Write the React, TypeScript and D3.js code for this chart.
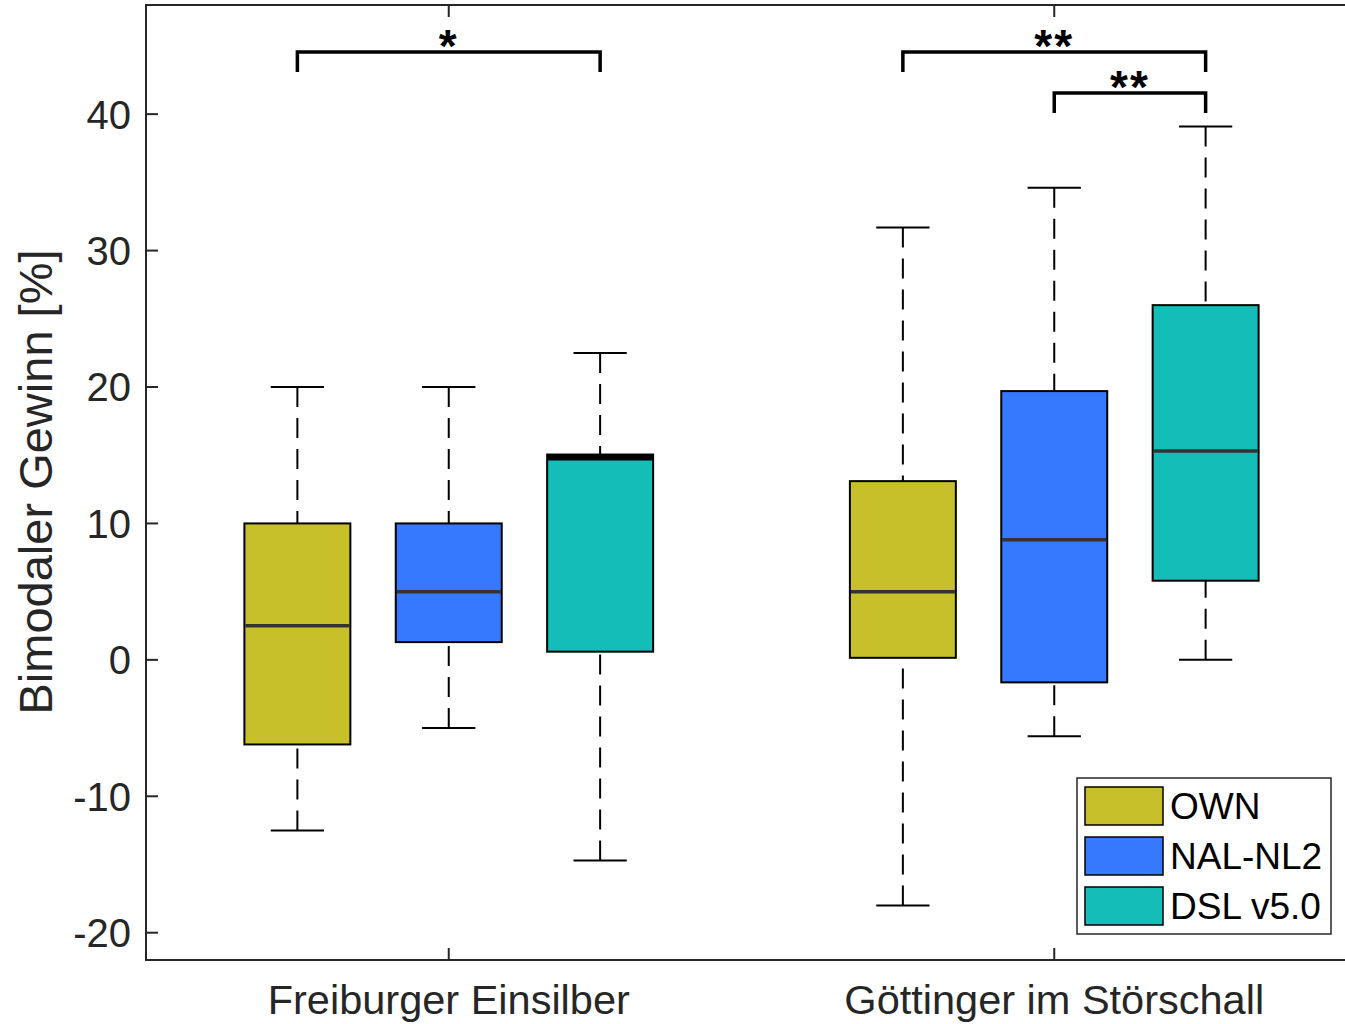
import React from "react";
import * as d3 from "d3";

const categories = ["Freiburger Einsilber", "Göttinger im Störschall"];
const seriesNames = ["OWN", "NAL-NL2", "DSL v5.0"];
const seriesColors = ["#c8c02b", "#3679ff", "#14bdb8"];

// per series, values for [Freiburger, Göttinger]
const whiskerLow = [
  [-12.5, -18.0],
  [-5.0, -5.6],
  [-14.7, 0.0],
];
const q1 = [
  [-6.2, 0.15],
  [1.3, -1.65],
  [0.6, 5.8],
];
const median = [
  [2.5, 5.0],
  [5.0, 8.8],
  [14.75, 15.3],
];
const q3 = [
  [10.0, 13.1],
  [10.0, 19.7],
  [15.05, 26.0],
];
const whiskerHigh = [
  [20.0, 31.7],
  [20.0, 34.6],
  [22.5, 39.1],
];

const yTicks = [-20, -10, 0, 10, 20, 30, 40];

// significance brackets
const sigGroup = [0, 1, 1];
const sigFrom = [0, 0, 1];
const sigTo = [2, 2, 2];
const sigLevel = [0, 0, 1];
const sigLabel = ["*", "**", "**"];

const W = 1345;
const H = 1024;
const left = 146;
const top = 5;
const bottom = 960;
const right = 1357;

export default function App() {
  const x = d3.scaleLinear().domain([0.5, 2.5]).range([left, right]);
  const y = d3.scaleLinear().domain([-22, 48]).range([bottom, top]);
  const offsets = [-0.25, 0, 0.25];
  const boxW = x(0.175) - x(0);
  const capW = x(0.088) - x(0);
  const pos = (g: number, s: number) => x(g + 1 + offsets[s]);
  const axisColor = "#262626";
  const font = "'Liberation Sans', Arial, Helvetica, sans-serif";

  const boxes: React.ReactNode[] = [];
  seriesNames.forEach((_, s) => {
    categories.forEach((__, g) => {
      const cx = pos(g, s);
      const key = `${s}-${g}`;
      const thick = q3[s][g] - median[s][g] < 0.5;
      boxes.push(
        <g key={key}>
          <line x1={cx} x2={cx} y1={y(whiskerHigh[s][g])} y2={y(q3[s][g])} stroke="#000" strokeWidth={2} strokeDasharray="20,11" />
          <line x1={cx} x2={cx} y1={y(whiskerLow[s][g])} y2={y(q1[s][g])} stroke="#000" strokeWidth={2} strokeDasharray="20,11" />
          <line x1={cx - capW / 2} x2={cx + capW / 2} y1={y(whiskerHigh[s][g])} y2={y(whiskerHigh[s][g])} stroke="#000" strokeWidth={2} />
          <line x1={cx - capW / 2} x2={cx + capW / 2} y1={y(whiskerLow[s][g])} y2={y(whiskerLow[s][g])} stroke="#000" strokeWidth={2} />
          <rect x={cx - boxW / 2} y={y(q3[s][g])} width={boxW} height={y(q1[s][g]) - y(q3[s][g])} fill={seriesColors[s]} stroke="#000" strokeWidth={2} />
          {thick && (
            <rect x={cx - boxW / 2} y={y(q3[s][g])} width={boxW} height={y(median[s][g]) - y(q3[s][g])} fill="#000" />
          )}
          <line x1={cx - boxW / 2 + 1} x2={cx + boxW / 2 - 1} y1={y(median[s][g])} y2={y(median[s][g])} stroke={thick ? "#000" : "#333"} strokeWidth={3.5} />
        </g>
      );
    });
  });

  const brackets = sigLabel.map((lab, i) => {
    const g = sigGroup[i];
    const xa = pos(g, sigFrom[i]);
    const xb = pos(g, sigTo[i]);
    const yl = 52 + sigLevel[i] * 41;
    return (
      <g key={`sig${i}`}>
        <path d={`M${xa},${yl + 20}V${yl}H${xb}V${yl + 20}`} fill="none" stroke="#000" strokeWidth={3.5} />
        <text x={(xa + xb) / 2} y={yl + 10} textAnchor="middle" fontFamily={font} fontWeight="bold" fontSize={46} letterSpacing={2} fill="#000">
          {lab}
        </text>
      </g>
    );
  });

  return (
    <svg width={W} height={H} style={{ position: "absolute", left: 0, top: 0, background: "#fff" }}>
      <rect x={0} y={0} width={W} height={H} fill="#fff" />
      <rect x={left} y={top} width={right - left} height={bottom - top} fill="none" stroke={axisColor} strokeWidth={2} />
      {yTicks.map((t) => (
        <g key={`yt${t}`}>
          <line x1={left} x2={left + 12} y1={y(t)} y2={y(t)} stroke={axisColor} strokeWidth={2} />
          <line x1={right - 12} x2={right} y1={y(t)} y2={y(t)} stroke={axisColor} strokeWidth={2} />
          <text x={131} y={y(t)} dy="0.36em" textAnchor="end" fontFamily={font} fontSize={40} fill={axisColor}>
            {t}
          </text>
        </g>
      ))}
      {categories.map((c, i) => (
        <g key={`xt${i}`}>
          <line x1={x(i + 1)} x2={x(i + 1)} y1={bottom} y2={bottom - 12} stroke={axisColor} strokeWidth={2} />
          <line x1={x(i + 1)} x2={x(i + 1)} y1={top} y2={top + 12} stroke={axisColor} strokeWidth={2} />
          <text x={x(i + 1)} y={1014} textAnchor="middle" fontFamily={font} fontSize={41.5} fill={axisColor}>
            {c}
          </text>
        </g>
      ))}
      <text transform={`translate(52,482) rotate(-90)`} textAnchor="middle" fontFamily={font} fontSize={47} fill={axisColor}>
        Bimodaler Gewinn [%]
      </text>
      {boxes}
      {brackets}
      <g>
        <rect x={1077} y={778} width={254} height={156} fill="#fff" stroke={axisColor} strokeWidth={1.5} />
        {seriesNames.map((n, i) => (
          <g key={`lg${i}`}>
            <rect x={1085} y={787 + i * 50} width={78} height={38} fill={seriesColors[i]} stroke="#000" strokeWidth={1.5} />
            <text x={1170} y={806 + i * 50} dy="0.36em" fontFamily={font} fontSize={37} fill="#000">
              {n}
            </text>
          </g>
        ))}
      </g>
    </svg>
  );
}
